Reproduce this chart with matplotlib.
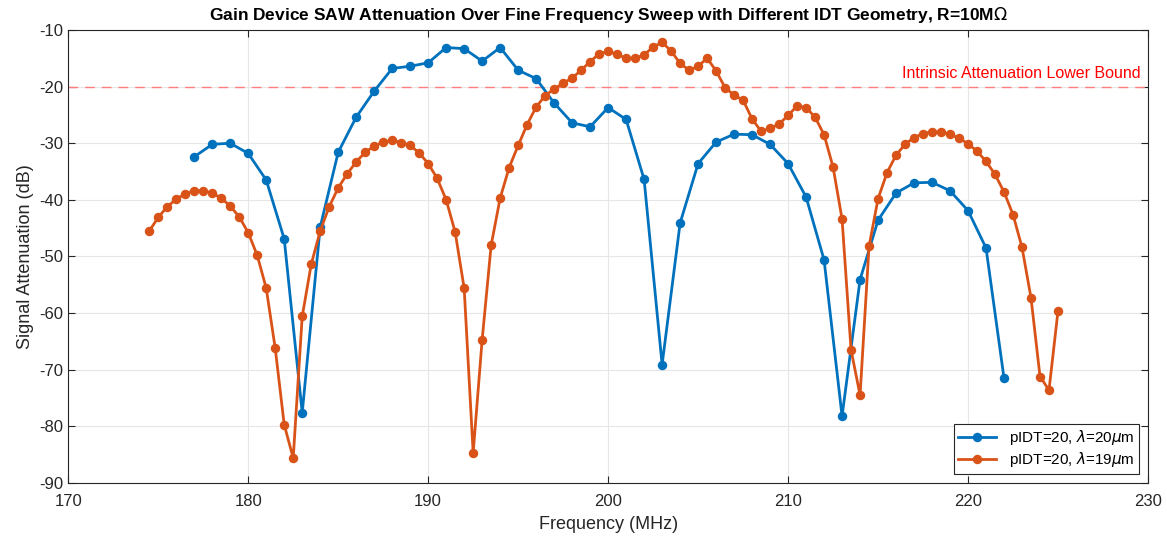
import matplotlib
matplotlib.use("Agg")
import matplotlib.pyplot as plt

plt.rcParams['font.family'] = ['Liberation Sans', 'DejaVu Sans']
plt.rcParams['mathtext.fontset'] = 'dejavusans'
plt.rcParams['axes.unicode_minus'] = False

# --- data ---
freq_20 = [177, 178, 179, 180, 181, 182, 183, 184, 185, 186, 187, 188, 189, 190,
           191, 192, 193, 194, 195, 196, 197, 198, 199, 200, 201, 202, 203, 204,
           205, 206, 207, 208, 209, 210, 211, 212, 213, 214, 215, 216, 217, 218,
           219, 220, 221, 222]
atten_20 = [-32.4, -30.2, -30.0, -31.8, -36.5, -46.9, -77.6, -44.8, -31.6, -25.4,
            -20.8, -16.8, -16.4, -15.8, -13.1, -13.3, -15.5, -13.1, -17.1, -18.6,
            -22.9, -26.4, -27.1, -23.7, -25.8, -36.4, -69.1, -44.1, -33.6, -29.8,
            -28.4, -28.5, -30.2, -33.6, -39.5, -50.6, -78.2, -54.1, -43.6, -38.8,
            -37.0, -36.9, -38.4, -41.9, -48.5, -71.5]

freq_19 = [174.5, 175, 175.5, 176, 176.5, 177, 177.5, 178, 178.5, 179, 179.5, 180,
           180.5, 181, 181.5, 182, 182.5, 183, 183.5, 184, 184.5, 185, 185.5, 186,
           186.5, 187, 187.5, 188, 188.5, 189, 189.5, 190, 190.5, 191, 191.5, 192,
           192.5, 193, 193.5, 194, 194.5, 195, 195.5, 196, 196.5, 197, 197.5, 198,
           198.5, 199, 199.5, 200, 200.5, 201, 201.5, 202, 202.5, 203, 203.5, 204,
           204.5, 205, 205.5, 206, 206.5, 207, 207.5, 208, 208.5, 209, 209.5, 210,
           210.5, 211, 211.5, 212, 212.5, 213, 213.5, 214, 214.5, 215, 215.5, 216,
           216.5, 217, 217.5, 218, 218.5, 219, 219.5, 220, 220.5, 221, 221.5, 222,
           222.5, 223, 223.5, 224, 224.5, 225]
atten_19 = [-45.5, -43.1, -41.2, -39.9, -38.9, -38.4, -38.4, -38.8, -39.7, -41.1,
            -43.0, -45.8, -49.8, -55.6, -66.2, -79.7, -85.6, -60.6, -51.4, -45.5,
            -41.2, -37.9, -35.4, -33.3, -31.6, -30.5, -29.8, -29.5, -29.9, -30.4,
            -31.7, -33.6, -36.2, -40.0, -45.7, -55.6, -84.7, -64.7, -48.0, -39.7,
            -34.3, -30.4, -26.7, -23.6, -21.6, -20.4, -19.4, -18.5, -17.1, -15.6,
            -14.2, -13.8, -14.3, -15.0, -15.0, -14.4, -13.0, -12.2, -13.7, -15.9,
            -17.1, -16.4, -15.0, -17.2, -20.2, -21.5, -22.4, -25.7, -27.9, -27.4,
            -26.6, -25.1, -23.4, -23.7, -25.4, -28.5, -34.2, -43.4, -66.5, -74.5,
            -48.2, -39.8, -35.2, -32.1, -30.2, -29.0, -28.3, -28.0, -28.0, -28.4,
            -29.1, -30.1, -31.4, -33.2, -35.5, -38.6, -42.6, -48.4, -57.3, -71.2,
            -73.6, -59.6]

lower_bound = -20

fig = plt.figure(figsize=(11.67, 5.4), dpi=100)
ax = fig.add_axes([0.0585, 0.1056, 0.9252, 0.8389])

ax.plot(freq_20, atten_20, '-o', color='#0072BD', lw=2, ms=5.8,
        label=r'pIDT=20, $\lambda$=20$\mu$m')
ax.plot(freq_19, atten_19, '-o', color='#D95319', lw=2, ms=5.8,
        label=r'pIDT=20, $\lambda$=19$\mu$m')

ax.axhline(lower_bound, color='#FF7F7F', ls=(0, (7, 5)), lw=1, zorder=1)
ax.text(229.6, -17.7, 'Intrinsic Attenuation Lower Bound', color='red',
        fontsize=11.5, ha='right', va='center')

ax.set_xlim(170, 230)
ax.set_ylim(-90, -10)
ax.set_xticks(range(170, 231, 10))
ax.set_yticks(range(-90, -9, 10))
ax.grid(True, color='#e6e6e6', lw=0.8)
ax.set_axisbelow(True)
ax.tick_params(direction='in', labelsize=12, length=5, color='#262626',
               labelcolor='#262626', top=True, right=True)
ax.tick_params(axis='x', pad=8)
for s in ax.spines.values():
    s.set_color('#262626')
    s.set_linewidth(0.8)

ax.set_xlabel('Frequency (MHz)', fontsize=13, color='#262626', labelpad=5)
ax.set_ylabel('Signal Attenuation (dB)', fontsize=13, color='#262626')
ax.set_title(r'Gain Device SAW Attenuation Over Fine Frequency Sweep with Different IDT Geometry, R=10M$\Omega$',
             fontsize=12.5, fontweight='bold', pad=7)

leg = ax.legend(loc='lower right', fontsize=11, fancybox=False, framealpha=1,
                edgecolor='#262626', borderpad=0.3, handlelength=2.5,
                borderaxespad=0.6, labelspacing=0.2)
leg.get_frame().set_linewidth(0.8)

fig.savefig('out.png', dpi=100)
